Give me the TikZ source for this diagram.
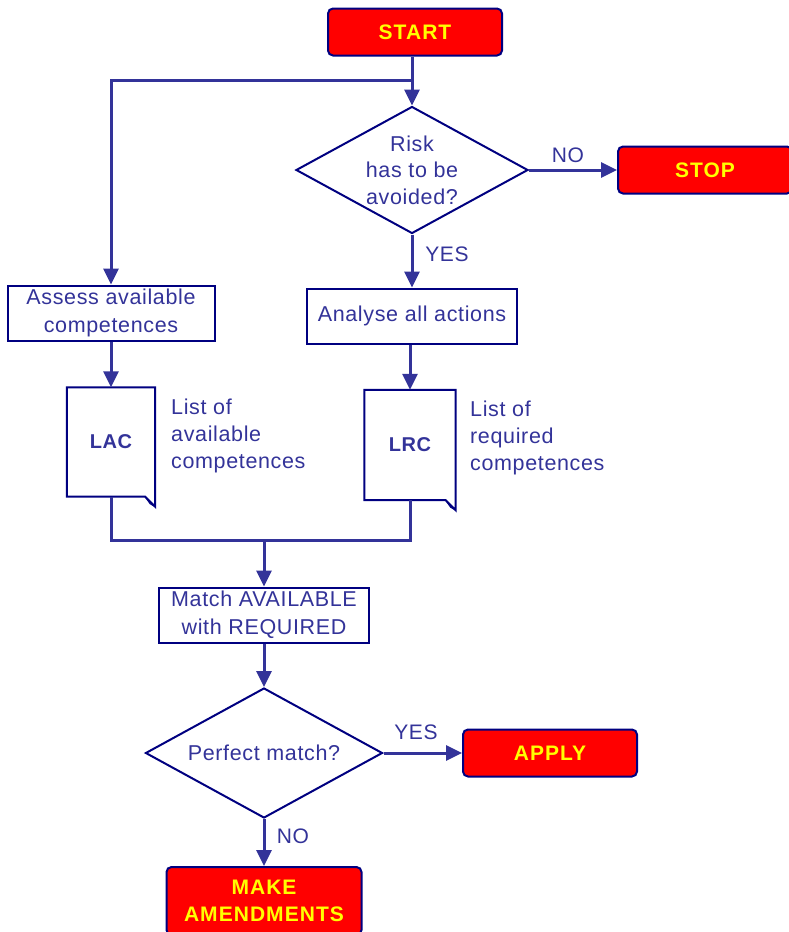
\documentclass[tikz,border=0pt]{standalone}
\usepackage{fontspec}
\setmainfont[LetterSpace=3]{Liberation Sans}
\usepackage{tikz}
\usetikzlibrary{arrows.meta,shapes.geometric,positioning}
\definecolor{cLine}{HTML}{333399}
\definecolor{cEdge}{HTML}{000080}
\definecolor{cTerm}{HTML}{FF0000}
\definecolor{cWord}{HTML}{FFFF00}
\tikzset{
  term/.style={rectangle,rounded corners=5pt,fill=cTerm,draw=cEdge,line width=2pt,text=cWord,font=\fontsize{21}{27}\selectfont\bfseries\addfontfeature{LetterSpace=5},align=center,inner sep=0pt},
  proc/.style={rectangle,draw=cEdge,line width=2pt,fill=white,text=cLine,font=\fontsize{21.5}{28}\selectfont,align=center,inner sep=0pt},
  dec/.style={diamond,draw=cEdge,line width=2pt,fill=white,inner sep=0pt},
  dectxt/.style={text=cLine,font=\fontsize{21.5}{26.5}\selectfont,align=center},
  docu/.style={rectangle,inner sep=0pt,text=cLine,font=\fontsize{20}{26}\selectfont\bfseries},
  docline/.style={draw=cEdge,line width=2pt,line join=miter,fill=white},
  note/.style={text=cLine,font=\fontsize{21.5}{27}\selectfont,align=left,anchor=west,inner sep=0pt},
  lbl/.style={text=cLine,font=\fontsize{21}{24}\selectfont,inner sep=0pt},
  conn/.style={draw=cLine,line width=3pt},
  arr/.style={conn,-{Triangle[length=16pt,width=15pt]}},
}
\begin{document}
\begin{tikzpicture}[x=1pt,y=-1pt]
  \useasboundingbox (0,0) rectangle (789,932);
  % terminals
  \node[term,minimum width=174pt,minimum height=47pt] (start) at (415,32) {START};
  \node[term,minimum width=174pt,minimum height=47pt] (stop) at (705,170) {STOP};
  \node[term,minimum width=174pt,minimum height=47pt] (apply) at (550,753) {APPLY};
  \node[term,minimum width=195pt,minimum height=68pt] (amend) at (264,901) {MAKE\\AMENDMENTS};
  % decisions
  \node[dec,minimum width=232pt,minimum height=127pt] (risk) at (412,170) {};
  \node[dectxt] at (risk) {Risk\\has to be\\avoided?};
  \node[dec,minimum width=237pt,minimum height=130pt] (perfect) at (264,753) {};
  \node[dectxt] at (perfect) {Perfect match?};
  % processes
  \node[proc,minimum width=207pt,minimum height=55pt] (assess) at (111,313) {Assess available\\competences};
  \node[proc,minimum width=210pt,minimum height=55pt] (analyse) at (412,316) {Analyse all actions};
  \node[proc,minimum width=210pt,minimum height=55pt] (match) at (264,615) {Match AVAILABLE\\with REQUIRED};
  % documents
  \node[docu,minimum width=88pt,minimum height=109pt] (lac) at (111,442) {};
  \node[docu,minimum width=91pt,minimum height=110pt] (lrc) at (410,445) {};
  \foreach \d in {lac,lrc}{
    \draw[docline] (\d.north west) -- (\d.north east) -- ([yshift=-10pt]\d.south east)
      -- ([xshift=-10pt]\d.south east) -- (\d.south west) -- cycle;
    \draw[draw=cEdge,line width=1.2pt,line join=miter] ([yshift=-10pt]\d.south east)
      -- ([xshift=-5pt,yshift=-7pt]\d.south east) -- ([xshift=-10pt]\d.south east);
  }
  \node[docu] at (lac) {LAC};
  \node[docu] at (lrc) {LRC};
  \node[note] (lactxt) at (171,436) {List of\\available\\competences};
  \node[note] (lrctxt) at (470,438) {List of\\required\\competences};
  % connectors
  \coordinate (split) at (412,80);
  \coordinate (join) at (264,540);
  \draw[conn] (start.south -| split) -- (split);
  \draw[arr] (split) -- (risk.north);
  \draw[arr] (split) -| (assess.north);
  \draw[arr] (risk.east) -- (stop.west);
  \draw[arr] (risk.south) -- (analyse.north);
  \draw[arr] (assess.south) -- (lac.north);
  \draw[arr] (analyse.south -| lrc) -- (lrc.north);
  \draw[conn] (lac.south) |- (join) -| (lrc.south);
  \draw[arr] (join) -- (match.north);
  \draw[arr] (match.south) -- (perfect.north);
  \draw[arr] (perfect.east) -- (apply.west);
  \draw[arr] (perfect.south) -- (amend.north);
  % branch labels
  \node[lbl] at (568,155) {NO};
  \node[lbl] at (447,254) {YES};
  \node[lbl] at (416,732) {YES};
  \node[lbl] at (293,836) {NO};
\end{tikzpicture}
\end{document}
